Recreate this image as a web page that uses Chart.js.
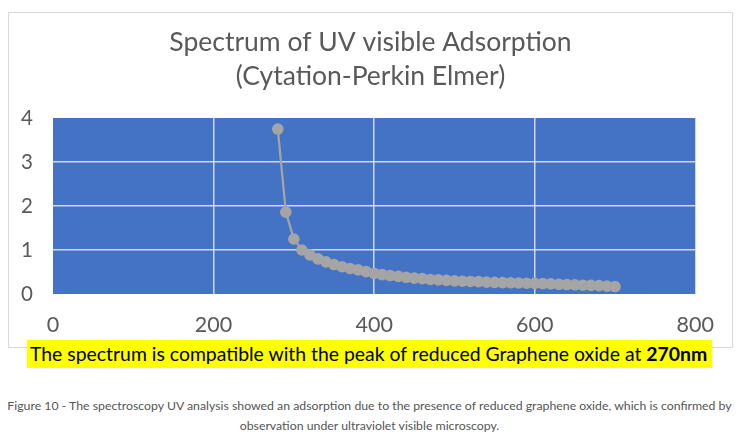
<!DOCTYPE html>
<html>
<head>
<meta charset="utf-8">
<script src="https://cdn.jsdelivr.net/npm/chart.js@4.4.1/dist/chart.umd.min.js"></script>
<style>
  html, body { margin: 0; padding: 0; background: #fff; }
  #page { position: relative; width: 739px; height: 444px; overflow: hidden; }
  #frame { position: absolute; left: 8px; top: 12px; width: 723px; height: 334px; border: 1px solid #d9d9d9; }
  #frame canvas { position: absolute; left: 0; top: 0; }
  #note {
    position: absolute; left: 27px; top: 340px; width: 685px; height: 28px;
    background: #ffff00; color: #000; font-family: Lato, sans-serif; font-size: 19.4px;
    line-height: 28px; padding-left: 3px; box-sizing: border-box; white-space: nowrap;
  }
  #caption {
    position: absolute; left: 0; top: 396px; width: 739px; text-align: center;
    font-family: Lato, sans-serif; font-size: 12.3px; line-height: 20px; color: #555;
    white-space: nowrap;
  }
</style>
</head>
<body>
<div id="page">
  <div id="frame"><canvas id="chart" width="723" height="334"></canvas></div>
  <div id="note">The spectrum is compatible with the peak of reduced Graphene oxide at <b>270nm</b></div>
  <div id="caption">Figure 10 - The spectroscopy UV analysis showed an adsorption due to the presence of reduced graphene oxide, which is confirmed by<br>observation under ultraviolet visible microscopy.</div>
</div>
<script>
// wavelength (nm) and absorbance
const wavelengths = [280, 290, 300, 310, 320, 330, 340, 350, 360, 370, 380, 390, 400, 410, 420,
  430, 440, 450, 460, 470, 480, 490, 500, 510, 520, 530, 540, 550, 560, 570, 580, 590, 600,
  610, 620, 630, 640, 650, 660, 670, 680, 690, 700];
const absorbance = [3.75, 1.86, 1.25, 1.00, 0.89, 0.80, 0.73, 0.67, 0.62, 0.58, 0.55, 0.51, 0.47, 0.44, 0.42,
  0.40, 0.38, 0.36, 0.35, 0.33, 0.32, 0.31, 0.30, 0.29, 0.285, 0.28, 0.27, 0.265, 0.26, 0.255, 0.25, 0.245, 0.24,
  0.235, 0.23, 0.22, 0.215, 0.21, 0.20, 0.195, 0.19, 0.18, 0.17];
const xTicks = [0, 200, 400, 600, 800];
const yTicks = [0, 1, 2, 3, 4];

// blue plot background
const plotBg = {
  id: "plotBg",
  beforeDraw(chart) {
    const a = chart.chartArea;
    const ctx = chart.ctx;
    ctx.save();
    ctx.fillStyle = "#4472c4";
    ctx.fillRect(a.left, a.top, a.right - a.left, a.bottom - a.top);
    ctx.restore();
  }
};

const gridColor = (ctx, ends) =>
  ends.includes(ctx.tick && ctx.tick.value) ? "rgba(0,0,0,0)" : "rgba(230,235,245,0.85)";

new Chart(document.getElementById("chart"), {
  type: "line",
  plugins: [plotBg],
  data: {
    datasets: [{
      data: wavelengths.map((w, i) => ({ x: w, y: absorbance[i] })),
      borderColor: "#a5a5a5",
      backgroundColor: "#a5a5a5",
      borderWidth: 2.25,
      pointRadius: 4.7,
      pointHoverRadius: 4.7,
      tension: 0
    }]
  },
  options: {
    responsive: false,
    animation: false,
    layout: { padding: 0 },
    plugins: {
      legend: { display: false },
      tooltip: { enabled: false },
      title: {
        display: true,
        text: ["Spectrum of UV visible Adsorption", "(Cytation-Perkin Elmer)"],
        color: "#595959",
        font: { family: "Lato", size: 26.5, weight: "normal", lineHeight: 1.27 },
        padding: { top: 13, bottom: 24.7 }
      }
    },
    scales: {
      x: {
        type: "linear",
        min: 0,
        max: 800,
        afterBuildTicks: (s) => { s.ticks = xTicks.map(v => ({ value: v })); },
        afterFit: (s) => { s.height = 53; },
        border: { display: false },
        grid: { drawTicks: false, lineWidth: 1.5, color: (c) => gridColor(c, [0, 800]) },
        ticks: { color: "#595959", padding: 18, font: { family: "Lato", size: 21.5 } }
      },
      y: {
        min: 0,
        max: 4,
        afterBuildTicks: (s) => { s.ticks = yTicks.map(v => ({ value: v })); },
        afterFit: (s) => { s.width = 44; },
        border: { display: false },
        grid: { drawTicks: false, lineWidth: 1.5, color: (c) => gridColor(c, [0, 4]) },
        ticks: { color: "#595959", padding: 20, font: { family: "Lato", size: 20.5 } }
      },
      // empty right-hand spacer so the title stays centred on the frame
      spacer: {
        position: "right",
        min: 0,
        max: 4,
        afterFit: (s) => { s.width = 35; },
        border: { display: false },
        grid: { display: false },
        ticks: { display: false }
      }
    }
  }
});
</script>
</body>
</html>
